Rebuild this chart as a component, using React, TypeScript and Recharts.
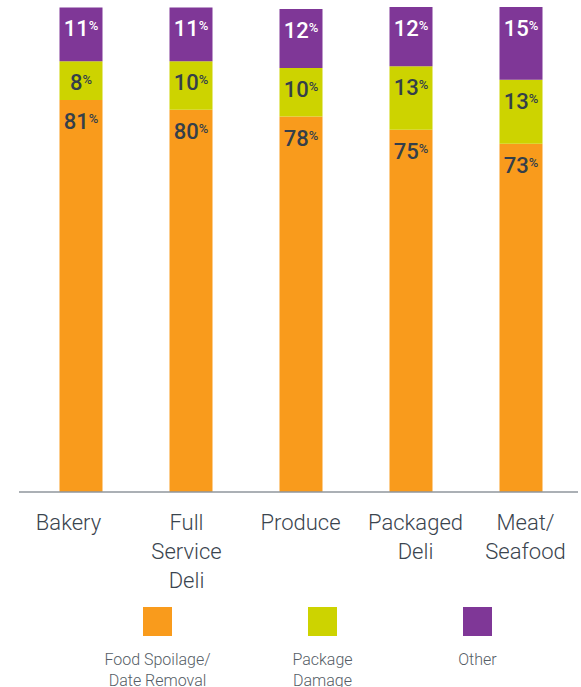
import React from 'react';
import { BarChart, Bar, XAxis, YAxis, LabelList } from 'recharts';

const categories = ['Bakery', 'Full Service Deli', 'Produce', 'Packaged Deli', 'Meat/Seafood'];
const tickLines = [['Bakery'], ['Full', 'Service', 'Deli'], ['Produce'], ['Packaged', 'Deli'], ['Meat/', 'Seafood']];
// bar heights (share of 100)
const spoilage = [80.8, 78.8, 77.4, 74.7, 71.8];
const damage = [8.0, 10.0, 10.0, 13.1, 13.2];
const other = [11.1, 11.1, 12.2, 12.2, 15.0];
// printed labels
const spoilageLabels = [81, 80, 78, 75, 73];
const damageLabels = [8, 10, 10, 13, 13];
const otherLabels = [11, 11, 12, 12, 15];

const seriesNames = ['Food Spoilage/\nDate Removal', 'Package\nDamage', 'Other'];
const seriesColors = ['#F99B1C', '#CDD300', '#7F3797'];

const data = categories.map((c, i) => ({
  name: c,
  spoilage: spoilage[i],
  damage: damage[i],
  other: other[i],
  spoilageLabel: spoilageLabels[i],
  damageLabel: damageLabels[i],
  otherLabel: otherLabels[i]
}));

const FONT = 'Roboto, "Open Sans", sans-serif';
const tickOffsets = [-12, -4, 0, 5, 5];

const makeLabel = (color: string) => (props: any) => {
  const { x, y, width, value } = props;
  return <text x={x + width / 2} y={y + 29} textAnchor="middle" fill={color} fontFamily={FONT} fontSize={22} fontWeight={500}>
      {value}
      <tspan fontSize={13} dy={-6}>%</tspan>
    </text>;
};

const CatTick = (props: any) => {
  const { x, index } = props;
  const lines = tickLines[index] || [];
  const cx = x + (tickOffsets[index] || 0);
  return <text x={cx} y={532} textAnchor="middle" fill="#3a444e" fontFamily={FONT} fontSize={22} fontWeight={300}>
      {lines.map((l, k) => <tspan key={k} x={cx} y={530 + k * 29}>{l}</tspan>)}
    </text>;
};

const legendCenters = [157.5, 322.5, 477.5];

export default function App() {
  return <div style={{ position: 'absolute', left: 0, top: 0, width: 581, height: 687, background: '#fff', overflow: 'hidden' }}>
      <BarChart width={581} height={687} data={data} margin={{ top: 7, right: 3, left: 19, bottom: 0 }} barSize={43}>
        <XAxis dataKey="name" height={195} padding={{ left: 6.5, right: 2.5 }} axisLine={{ stroke: '#8f969c', strokeWidth: 1.5 }} tickLine={false} tick={<CatTick />} interval={0} />
        <YAxis hide domain={[0, 100]} allowDataOverflow />
        <Bar dataKey="spoilage" stackId="a" fill={seriesColors[0]} isAnimationActive={false}>
          <LabelList dataKey="spoilageLabel" content={makeLabel('#343f4a')} />
        </Bar>
        <Bar dataKey="damage" stackId="a" fill={seriesColors[1]} isAnimationActive={false}>
          <LabelList dataKey="damageLabel" content={makeLabel('#343f4a')} />
        </Bar>
        <Bar dataKey="other" stackId="a" fill={seriesColors[2]} isAnimationActive={false}>
          <LabelList dataKey="otherLabel" content={makeLabel('#ffffff')} />
        </Bar>
      </BarChart>
      {seriesNames.map((n, i) => <div key={n}>
          <div style={{ position: 'absolute', left: legendCenters[i] - 14.5, top: 607, width: 29, height: 29, background: seriesColors[i] }} />
          <div style={{ position: 'absolute', left: legendCenters[i] - 80, top: 649, width: 160, textAlign: 'center', fontFamily: FONT, fontWeight: 300, fontSize: 16, lineHeight: '21px', color: '#555d66', whiteSpace: 'pre-line' }}>
            {n}
          </div>
        </div>)}
    </div>;
}
